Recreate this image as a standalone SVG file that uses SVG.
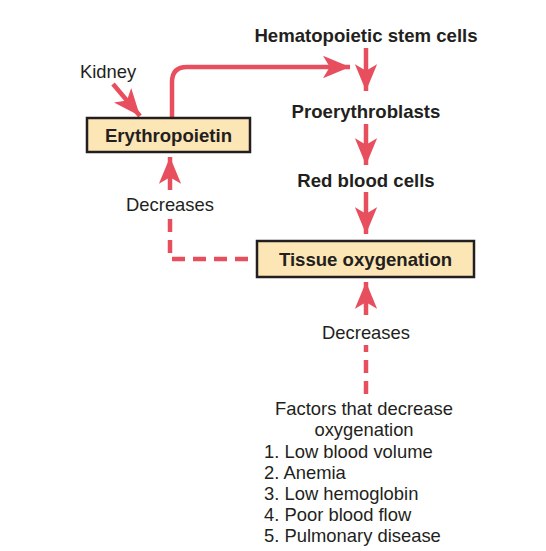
<svg xmlns="http://www.w3.org/2000/svg" width="546" height="551" viewBox="0 0 546 551">
<style>
.b{font-family:"Liberation Sans",Arial,sans-serif;font-weight:bold;font-size:18.6px;fill:#231f20;text-anchor:middle}
.n{font-family:"Liberation Sans",Arial,sans-serif;font-size:18.4px;fill:#231f20}
.c{text-anchor:middle}
.box{fill:#fde6b5;stroke:#231f20;stroke-width:2.5}
.ln{fill:none;stroke:#e84f5e;stroke-width:4.5}
.d{stroke-dasharray:13 8}
</style>
<defs>
<marker id="ah" viewBox="0 0 12 10" refX="12" refY="5" markerWidth="6" markerHeight="5" orient="auto" markerUnits="strokeWidth">
<path d="M0,0 L12,5 L0,10 L3,5 Z" fill="#e84f5e"/>
</marker>
</defs>
<rect width="546" height="551" fill="#fff"/>
<g id="connectors">
<path class="ln" d="M172,118 V82 Q172,67 187,67 H350" marker-end="url(#ah)"/>
<path class="ln" d="M113,84 L140,116" marker-end="url(#ah)"/>
<path class="ln" d="M366,48 V91" marker-end="url(#ah)"/>
<path class="ln" d="M366,124 V165" marker-end="url(#ah)"/>
<path class="ln" d="M366,192 V234" marker-end="url(#ah)"/>
<path class="ln" d="M170,190 V157" marker-end="url(#ah)"/>
<path class="ln d" d="M248,259 H170 V218"/>
<path class="ln" d="M366,315 V282" marker-end="url(#ah)"/>
<path class="ln d" d="M366,394 V345"/>
<text class="n c" x="170" y="211">Decreases</text>
<text class="n c" x="366" y="339">Decreases</text>
</g>
<g id="kidney"><text class="n" x="80" y="78">Kidney</text></g>
<g id="erythropoietin">
<rect class="box" x="87" y="118" width="163" height="34"/>
<text class="b" x="168.5" y="142">Erythropoietin</text>
</g>
<g id="stem"><text class="b" x="366" y="42">Hematopoietic stem cells</text></g>
<g id="proerythroblasts"><text class="b" x="366" y="118">Proerythroblasts</text></g>
<g id="rbc"><text class="b" x="366" y="187">Red blood cells</text></g>
<g id="tissue">
<rect class="box" x="257" y="241" width="217" height="36"/>
<text class="b" x="365.5" y="266">Tissue oxygenation</text>
</g>
<g id="factors">
<text class="n c" x="364" y="415">Factors that decrease</text>
<text class="n c" x="364" y="436">oxygenation</text>
<text class="n" x="264" y="458">1. Low blood volume</text>
<text class="n" x="264" y="479">2. Anemia</text>
<text class="n" x="264" y="500">3. Low hemoglobin</text>
<text class="n" x="264" y="521">4. Poor blood flow</text>
<text class="n" x="264" y="542">5. Pulmonary disease</text>
</g>
</svg>
